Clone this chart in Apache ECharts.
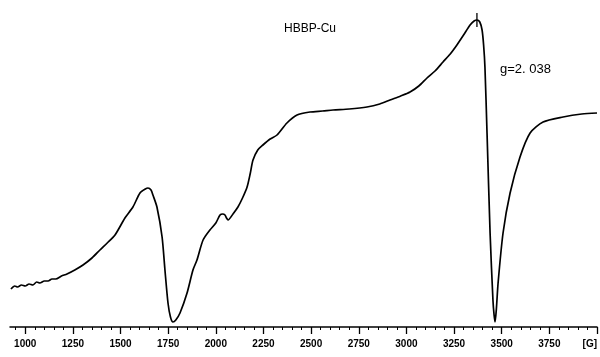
<!DOCTYPE html>
<html>
<head>
<meta charset="utf-8">
<style>
  html, body { margin: 0; padding: 0; background: #fff; }
  #chart { width: 600px; height: 357px; }
</style>
<script src="https://cdn.jsdelivr.net/npm/echarts@6/dist/echarts.min.js"></script>
</head>
<body>
<div id="chart"></div>
<script>
// EPR spectrum of HBBP-Cu: magnetic field (G) vs. first-derivative signal (a.u.)
const fieldG = [
  925, 945, 960, 980, 1000, 1020, 1040, 1060, 1077, 1100, 1120, 1140, 1160, 1190, 1219,
  1260, 1303, 1350, 1392, 1430, 1471,
  1523, 1565, 1602, 1630, 1644, 1660, 1670, 1691, 1718, 1733, 1749, 1762, 1775,
  1790, 1812, 1849, 1880, 1901, 1933, 1969, 2000, 2022, 2036, 2048, 2056, 2064,
  2090, 2116, 2140, 2164, 2180, 2195, 2220, 2247, 2285, 2321, 2373, 2426, 2494,
  2560, 2615, 2700, 2793, 2860, 2914, 2970, 3019, 3065, 3108, 3150, 3192, 3230,
  3265, 3300, 3334, 3355, 3370, 3385, 3397, 3405, 3412, 3423, 3439, 3454, 3460,
  3465, 3472, 3481, 3507, 3544, 3596, 3649, 3717, 3822, 3920, 4000
];
const signal = [
  38, 41, 40, 42, 41, 43, 42, 45, 44, 46, 46, 48, 48, 51, 53,
  57, 62, 69, 77, 84, 92,
  109, 120, 134, 138, 139, 137, 132, 120, 90, 57, 24, 10, 5,
  7, 14, 34, 57, 67, 87, 97, 104, 112, 113, 112, 109, 107,
  113, 120, 129, 140, 153, 167, 177, 182, 188, 192, 204, 212, 215,
  216, 217, 218, 220, 223, 227, 231, 235, 241, 249, 256, 265, 273,
  282, 292, 302, 306, 307, 305, 297, 282, 260, 194, 94, 27, 12,
  5, 18, 44, 94, 134, 170, 194, 205, 210, 213, 214
];

// Field axis ticks and labels
const majorTicks = [1000, 1250, 1500, 1750, 2000, 2250, 2500, 2750, 3000, 3250, 3500, 3750, 4000];
const tickLabels = ['1000', '1250', '1500', '1750', '2000', '2250', '2500', '2750', '3000', '3250', '3500', '3750', '[G]'];
const minorStep = 50;

const sampleName = 'HBBP-Cu';
const gLabel = 'g=2. 038';
const markerField = 3370;

const minorTicks = [];
for (let v = 950; v <= 4000; v += minorStep) {
  if (majorTicks.indexOf(v) < 0) minorTicks.push(v);
}

const labelFont = '"Liberation Sans Narrow", "Liberation Sans", Arial, sans-serif';
const markerValue = signal[fieldG.indexOf(markerField)];

const chart = echarts.init(document.getElementById('chart'), null, { renderer: 'canvas' });
chart.setOption({
  animation: false,
  backgroundColor: '#ffffff',
  title: {
    text: sampleName,
    left: 279,
    top: 18,
    textStyle: { fontFamily: labelFont, fontSize: 12, fontWeight: 'normal', color: '#000' }
  },
  grid: { left: 10, right: 3, top: 0, bottom: 30, containLabel: false, outerBoundsMode: 'none' },
  xAxis: [
    {
      type: 'value',
      min: 920,
      max: 4000,
      position: 'bottom',
      axisLine: { show: true, lineStyle: { color: '#000', width: 1.5 } },
      axisTick: { show: true, customValues: majorTicks, length: 7, lineStyle: { color: '#000', width: 1.3 } },
      axisLabel: {
        show: true,
        customValues: majorTicks,
        margin: 12,
        fontFamily: labelFont,
        fontWeight: 'bold',
        fontSize: 10,
        color: '#000',
        hideOverlap: false,
        alignMaxLabel: 'right',
        formatter: function (v) { return tickLabels[majorTicks.indexOf(v)]; }
      },
      splitLine: { show: false }
    },
    {
      type: 'value',
      min: 920,
      max: 4000,
      position: 'bottom',
      offset: 0,
      axisLine: { show: false },
      axisTick: { show: true, customValues: minorTicks, length: 3, lineStyle: { color: '#000', width: 1 } },
      axisLabel: { show: false },
      splitLine: { show: false }
    }
  ],
  yAxis: {
    type: 'value',
    min: 0,
    max: 327,
    show: false
  },
  series: [
    {
      type: 'line',
      xAxisIndex: 0,
      data: fieldG.map((x, i) => [x, signal[i]]),
      showSymbol: false,
      smooth: 0.25,
      lineStyle: { color: '#000', width: 1.7 },
      markPoint: {
        silent: true,
        symbol: 'rect',
        symbolSize: [1.3, 14],
        itemStyle: { color: '#000' },
        label: { show: false },
        data: [{ coord: [markerField, markerValue] }]
      }
    }
  ],
  graphic: [
    {
      type: 'text',
      left: 500,
      top: 63,
      style: { text: gLabel, font: '13px "Liberation Sans", Arial, sans-serif', fill: '#000' }
    }
  ]
});
</script>
</body>
</html>
